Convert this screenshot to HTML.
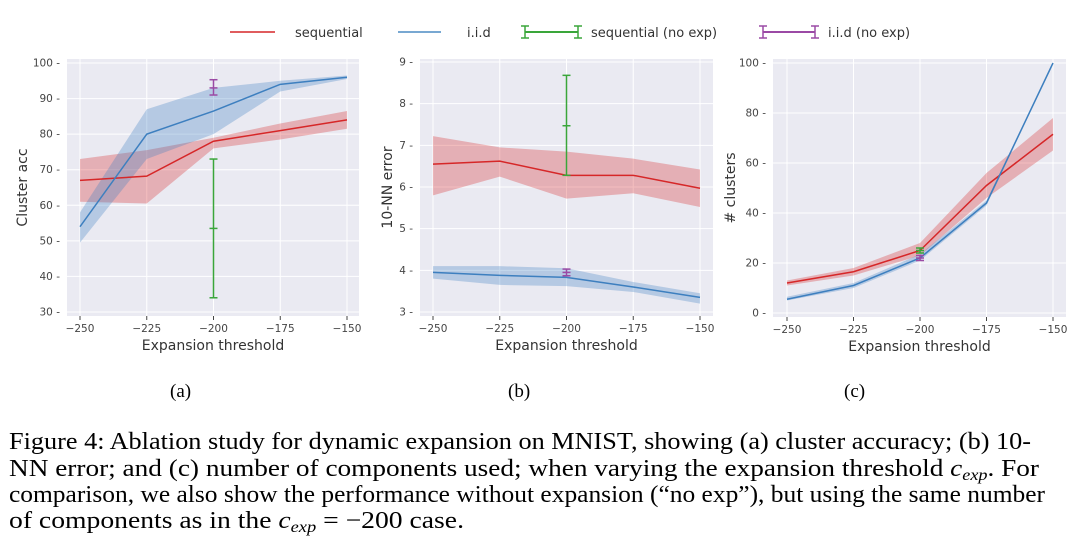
<!DOCTYPE html>
<html><head><meta charset="utf-8"><style>
html,body{margin:0;padding:0;background:#fff;}
svg{display:block;font-family:"DejaVu Sans","Liberation Sans",sans-serif;}
</style></head><body>
<svg id="fig" width="1080" height="546" viewBox="0 0 1080 546">
<g id="legend" font-size="13" fill="#333">
 <g><line x1="230" y1="32" x2="275" y2="32" stroke="#d62728" stroke-width="1.5"/><text x="295" y="37">sequential</text></g>
 <g><line x1="398" y1="32" x2="441" y2="32" stroke="#4c8cc4" stroke-width="1.5"/><text x="467" y="37">i.i.d</text></g>
 <g stroke="#3aa63a" stroke-width="1.5"><line x1="525" y1="32" x2="578" y2="32" stroke-width="2"/><line x1="525" y1="26" x2="525" y2="38"/><line x1="578" y1="26" x2="578" y2="38"/><line x1="521" y1="26" x2="529" y2="26"/><line x1="521" y1="38" x2="529" y2="38"/><line x1="574" y1="26" x2="582" y2="26"/><line x1="574" y1="38" x2="582" y2="38"/><text x="591" y="37" stroke="none" fill="#333">sequential (no exp)</text></g>
 <g stroke="#9b4aa5" stroke-width="1.5"><line x1="763" y1="32" x2="815" y2="32" stroke-width="2"/><line x1="763" y1="26" x2="763" y2="38"/><line x1="815" y1="26" x2="815" y2="38"/><line x1="759" y1="26" x2="767" y2="26"/><line x1="759" y1="38" x2="767" y2="38"/><line x1="811" y1="26" x2="819" y2="26"/><line x1="811" y1="38" x2="819" y2="38"/><text x="828" y="37" stroke="none" fill="#333">i.i.d (no exp)</text></g>
</g>
<g id="panels"></g>
<g font-family="Liberation Serif, serif" font-size="19" fill="#000">
 <text x="170" y="397">(a)</text>
 <text x="508" y="397">(b)</text>
 <text x="844" y="397">(c)</text>
</g>
<g font-family="Liberation Serif, serif" font-size="24" fill="#000">
 <text x="9" y="449" textLength="1022" lengthAdjust="spacingAndGlyphs">Figure 4: Ablation study for dynamic expansion on MNIST, showing (a) cluster accuracy; (b) 10-</text>
 <text x="9" y="476" textLength="1030" lengthAdjust="spacingAndGlyphs">NN error; and (c) number of components used; when varying the expansion threshold <tspan font-style="italic">c<tspan font-size="16" dy="4">exp</tspan></tspan><tspan dy="-4">.  For</tspan></text>
 <text x="9" y="502" textLength="1036" lengthAdjust="spacingAndGlyphs">comparison, we also show the performance without expansion (“no exp”), but using the same number</text>
 <text x="9" y="528" textLength="455" lengthAdjust="spacingAndGlyphs">of components as in the <tspan font-style="italic">c<tspan font-size="16" dy="4">exp</tspan></tspan><tspan dy="-4"> = −200 case.</tspan></text>
</g>
</svg>
<script>
const xCats = [-250, -225, -200, -175, -150];
const aSeq = [67, 68.2, 78, 81, 84];
const aSeqLo = [61, 60.5, 76, 78.5, 81.5];
const aSeqHi = [73, 75.5, 79, 83, 86.5];
const aIid = [54, 80, 86.5, 94, 96];
const aIidLo = [49.5, 73, 80, 92, 95.5];
const aIidHi = [58, 87, 93, 95, 96.5];
const aSeqNoExp = [53.5, 34, 73];
const aIidNoExp = [93, 91, 95.3];
const aTicks = [30, 40, 50, 60, 70, 80, 90, 100];
const bSeq = [6.55, 6.62, 6.28, 6.28, 5.97];
const bSeqLo = [5.8, 6.25, 5.72, 5.85, 5.52];
const bSeqHi = [7.22, 6.95, 6.85, 6.68, 6.42];
const bIid = [3.95, 3.88, 3.83, 3.6, 3.35];
const bIidLo = [3.8, 3.65, 3.62, 3.48, 3.2];
const bIidHi = [4.1, 4.1, 4.05, 3.72, 3.45];
const bSeqNoExp = [7.47, 6.28, 8.68];
const bIidNoExp = [3.95, 3.87, 4.03];
const bTicks = [3, 4, 5, 6, 7, 8, 9];
const cSeq = [12, 16.5, 25, 51, 71.5];
const cSeqLo = [11, 15, 23, 46, 65];
const cSeqHi = [13, 18, 28, 56, 78];
const cIid = [5.5, 11, 22, 44, 100];
const cIidLo = [5, 10, 21, 43, 100];
const cIidHi = [6.5, 12, 23.5, 45, 100];
const cSeqNoExp = [25, 24, 26];
const cIidNoExp = [22, 21, 23];
const cTicks = [0, 20, 40, 60, 80, 100];
const xTicks = [-250, -225, -200, -175, -150];

const NS = "http://www.w3.org/2000/svg";
function mk(tag, attrs, parent) {
  const e = document.createElementNS(NS, tag);
  for (const k in attrs) e.setAttribute(k, attrs[k]);
  parent.appendChild(e);
  return e;
}
const root = document.getElementById('panels');

function panel(name, box, yMin, yMax, yTicks, yLabel, series, seqNE, iidNE) {
  const g = mk('g', {}, root);
  
  
  const xs = v => box.x0 + (v - (-250)) / 100 * (box.x1 - box.x0);
  const ys = v => box.yb - (v - yMin) / (yMax - yMin) * (box.yb - box.yt);
  const bg = mk('rect', {x: box.l, y: box.t, width: box.r - box.l, height: box.b - box.t, fill: '#eaeaf2'}, g);
  
  
  const clipId = name + '-clip';
  const cp = mk('clipPath', {id: clipId}, g);
  mk('rect', {x: box.l, y: box.t, width: box.r - box.l, height: box.b - box.t}, cp);
  yTicks.forEach(t => {
    mk('line', {x1: box.l, x2: box.r, y1: ys(t), y2: ys(t), stroke: '#fff', 'stroke-width': 1}, g);
    const tx = mk('text', {x: box.l - 7, y: ys(t) + 3.5, 'text-anchor': 'end', 'font-size': 10.5, fill: '#444'}, g);
    tx.textContent = t + ' -';
    
    
  });
  xTicks.forEach(t => {
    mk('line', {x1: xs(t), x2: xs(t), y1: box.t, y2: box.b, stroke: '#fff', 'stroke-width': 1}, g);
    mk('line', {x1: xs(t), x2: xs(t), y1: box.b, y2: box.b + 4, stroke: '#444', 'stroke-width': 1}, g);
    const tx = mk('text', {x: xs(t), y: box.b + 16, 'text-anchor': 'middle', 'font-size': 10.5, fill: '#444'}, g);
    tx.textContent = '\u2212' + Math.abs(t);
    
    
  });
  const xl = mk('text', {x: (box.l + box.r) / 2, y: box.b + 34, 'text-anchor': 'middle', 'font-size': 14, fill: '#333'}, g);
  xl.textContent = 'Expansion threshold';
  
  
  const cy = (box.t + box.b) / 2;
  const yl = mk('text', {x: box.l - box.ylo, y: cy, 'text-anchor': 'middle', 'font-size': 14, fill: '#333', transform: `rotate(-90 ${box.l - box.ylo} ${cy})`}, g);
  yl.textContent = yLabel;
  
  
  const pg = mk('g', {'clip-path': `url(#${clipId})`}, g);
  series.forEach(s => {
    let d = xCats.map((c, i) => (i ? 'L' : 'M') + xs(c) + ',' + ys(s.hi[i])).join('');
    for (let i = xCats.length - 1; i >= 0; i--) d += 'L' + xs(xCats[i]) + ',' + ys(s.lo[i]);
    const band = mk('path', {d: d + 'Z', fill: s.color, 'fill-opacity': 0.3}, pg);
    
    
  });
  series.forEach(s => {
    const pts = xCats.map((c, i) => xs(c) + ',' + ys(s.mean[i])).join(' ');
    const ln = mk('polyline', {points: pts, fill: 'none', stroke: s.color, 'stroke-width': 1.5}, pg);
    
    
  });
  [[seqNE, '#3aa63a', 'sequential-no-exp-errorbar'], [iidNE, '#9b4aa5', 'iid-no-exp-errorbar']].forEach(([v, col, nm]) => {
    const eg = mk('g', {stroke: col, 'stroke-width': 1.5}, pg);
    
    
    const x = xs(-200);
    mk('line', {x1: x, x2: x, y1: ys(v[1]), y2: ys(v[2])}, eg);
    [v[0], v[1], v[2]].forEach(yv => mk('line', {x1: x - 4, x2: x + 4, y1: ys(yv), y2: ys(yv)}, eg));
  });
}

panel('panel-a-cluster-acc', {l: 67, r: 359, t: 59, b: 316, x0: 80, x1: 347, yt: 63, yb: 312, ylo: 40},
  30, 100, aTicks, 'Cluster acc',
  [{name: 'sequential', color: '#d62728', mean: aSeq, lo: aSeqLo, hi: aSeqHi},
   {name: 'iid', color: '#3d7fbf', mean: aIid, lo: aIidLo, hi: aIidHi}], aSeqNoExp, aIidNoExp);
panel('panel-b-10nn-error', {l: 420, r: 713, t: 59, b: 316, x0: 433, x1: 700, yt: 62, yb: 312, ylo: 28},
  3, 9, bTicks, '10-NN error',
  [{name: 'sequential', color: '#d62728', mean: bSeq, lo: bSeqLo, hi: bSeqHi},
   {name: 'iid', color: '#3d7fbf', mean: bIid, lo: bIidLo, hi: bIidHi}], bSeqNoExp, bIidNoExp);
panel('panel-c-num-clusters', {l: 773, r: 1066, t: 59, b: 317, x0: 787, x1: 1053, yt: 63, yb: 313, ylo: 38},
  0, 100, cTicks, '# clusters',
  [{name: 'sequential', color: '#d62728', mean: cSeq, lo: cSeqLo, hi: cSeqHi},
   {name: 'iid', color: '#3d7fbf', mean: cIid, lo: cIidLo, hi: cIidHi}], cSeqNoExp, cIidNoExp);
</script>
</body></html>
